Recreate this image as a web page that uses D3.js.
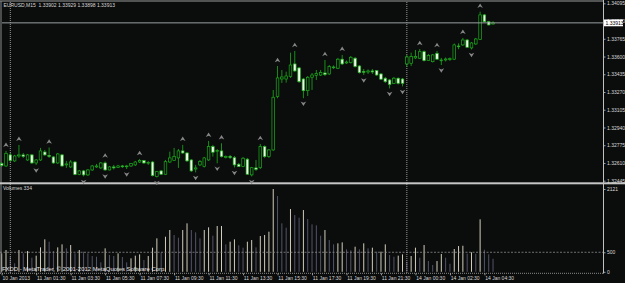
<!DOCTYPE html>
<html>
<head>
<meta charset="utf-8">
<script src="https://cdn.jsdelivr.net/npm/d3@7"></script>
<style>
  body { margin: 0; background: #0b0c0c; }
  svg { display: block; }
  text { font-family: "Liberation Sans", Arial, sans-serif; }
</style>
</head>
<body>
<div id="chart"></div>
<script>
//constants
const width = 625;
const height = 283;

//bars, 10 Jan 23:30 to 14 Jan 05:00, M15
const opens = [1.32605,1.32582,1.32685,1.32629,1.32675,1.32685,1.32638,1.32685,1.32610,1.32638,
  1.32712,1.32680,1.32666,1.32610,1.32685,1.32592,1.32573,1.32619,1.32503,1.32536,
  1.32499,1.32545,1.32573,1.32564,1.32610,1.32545,1.32573,1.32568,1.32582,1.32578,
  1.32582,1.32592,1.32619,1.32632,1.32610,1.32619,1.32483,1.32536,1.32505,1.32619,
  1.32632,1.32657,1.32722,1.32703,1.32638,1.32554,1.32592,1.32576,1.32638,1.32762,
  1.32722,1.32722,1.32661,1.32671,1.32659,1.32598,1.32576,1.32645,1.32499,1.32564,
  1.32566,1.32762,1.32669,1.32731,1.33227,1.33391,1.33391,1.33413,1.33531,1.33494,
  1.33391,1.33282,1.33407,1.33424,1.33428,1.33447,1.33438,1.33498,1.33491,1.33575,
  1.33540,1.33543,1.33584,1.33512,1.33461,1.33456,1.33466,1.33469,1.33438,1.33398,
  1.33382,1.33350,1.33398,1.33391,1.33531,1.33537,1.33587,1.33584,1.33645,1.33562,
  1.33552,1.33630,1.33563,1.33568,1.33573,1.33575,1.33698,1.33708,1.33754,1.33680,
  1.33717,1.33759,1.33987,1.33924,1.33902];
const highs = [1.32619,1.32722,1.32703,1.32685,1.32778,1.32703,1.32694,1.32694,1.32647,1.32750,
  1.32731,1.32754,1.32675,1.32703,1.32694,1.32629,1.32638,1.32629,1.32545,1.32545,
  1.32554,1.32592,1.32601,1.32619,1.32624,1.32582,1.32592,1.32592,1.32592,1.32592,
  1.32610,1.32629,1.32647,1.32638,1.32629,1.32629,1.32536,1.32545,1.32638,1.32715,
  1.32750,1.32740,1.32778,1.32712,1.32647,1.32592,1.32638,1.32666,1.32815,1.32778,
  1.32740,1.32793,1.32680,1.32685,1.32675,1.32610,1.32666,1.32657,1.32573,1.32638,
  1.32787,1.32773,1.32740,1.33289,1.33512,1.33475,1.33459,1.33636,1.33652,1.33503,
  1.33401,1.33419,1.33447,1.33475,1.33475,1.33568,1.33521,1.33517,1.33587,1.33615,
  1.33563,1.33605,1.33596,1.33521,1.33484,1.33480,1.33484,1.33475,1.33447,1.33410,
  1.33391,1.33410,1.33405,1.33401,1.33615,1.33636,1.33661,1.33670,1.33656,1.33624,
  1.33624,1.33652,1.33587,1.33591,1.33591,1.33721,1.33723,1.33773,1.33763,1.33735,
  1.33773,1.34017,1.33996,1.33931,1.33929];
const lows = [1.32573,1.32573,1.32619,1.32619,1.32657,1.32657,1.32629,1.32601,1.32592,1.32629,
  1.32675,1.32657,1.32601,1.32601,1.32573,1.32564,1.32564,1.32496,1.32496,1.32485,
  1.32489,1.32536,1.32564,1.32554,1.32536,1.32540,1.32550,1.32564,1.32564,1.32554,
  1.32573,1.32582,1.32610,1.32601,1.32592,1.32485,1.32475,1.32499,1.32499,1.32610,
  1.32629,1.32564,1.32694,1.32619,1.32526,1.32522,1.32582,1.32568,1.32629,1.32669,
  1.32607,1.32661,1.32652,1.32647,1.32568,1.32573,1.32571,1.32499,1.32485,1.32536,
  1.32554,1.32657,1.32657,1.32722,1.33212,1.33354,1.33357,1.33401,1.33456,1.33354,
  1.33212,1.33233,1.33289,1.33382,1.33419,1.33419,1.33428,1.33484,1.33484,1.33521,
  1.33531,1.33535,1.33498,1.33442,1.33428,1.33438,1.33438,1.33419,1.33382,1.33354,
  1.33303,1.33345,1.33340,1.33322,1.33503,1.33512,1.33577,1.33577,1.33554,1.33559,
  1.33545,1.33568,1.33521,1.33554,1.33559,1.33568,1.33668,1.33698,1.33680,1.33666,
  1.33708,1.33754,1.33917,1.33889,1.33898];
const closes = [1.32587,1.32700,1.32632,1.32675,1.32685,1.32671,1.32685,1.32610,1.32638,1.32722,
  1.32685,1.32671,1.32610,1.32694,1.32582,1.32601,1.32619,1.32503,1.32536,1.32499,
  1.32545,1.32582,1.32582,1.32610,1.32545,1.32573,1.32564,1.32582,1.32578,1.32582,
  1.32605,1.32619,1.32633,1.32610,1.32615,1.32492,1.32529,1.32505,1.32622,1.32657,
  1.32669,1.32722,1.32703,1.32629,1.32536,1.32564,1.32624,1.32657,1.32762,1.32710,
  1.32726,1.32669,1.32671,1.32661,1.32592,1.32576,1.32654,1.32505,1.32566,1.32550,
  1.32762,1.32669,1.32731,1.33221,1.33401,1.33410,1.33419,1.33521,1.33466,1.33366,
  1.33282,1.33407,1.33428,1.33442,1.33450,1.33433,1.33506,1.33503,1.33575,1.33531,
  1.33549,1.33593,1.33506,1.33450,1.33456,1.33466,1.33456,1.33428,1.33389,1.33366,
  1.33340,1.33398,1.33351,1.33351,1.33596,1.33599,1.33601,1.33645,1.33562,1.33610,
  1.33615,1.33575,1.33568,1.33577,1.33580,1.33708,1.33692,1.33754,1.33686,1.33726,
  1.33763,1.33987,1.33924,1.33894,1.33913];
const volumes = [473,558,387,217,558,473,533,361,413,626,
  831,771,533,626,703,601,686,473,558,515,
  473,404,387,242,601,430,404,473,379,242,
  345,413,447,302,404,618,857,490,899,1070,
  942,873,1070,1241,1070,1010,857,1070,1139,925,
  1173,1173,703,771,831,678,618,771,814,626,
  916,942,1027,2121,1940,1241,1130,1608,1454,1385,
  1582,1352,1216,1190,925,1070,814,703,729,754,
  575,550,643,575,729,601,618,515,515,703,
  430,387,413,447,259,404,618,361,686,276,
  174,276,456,361,207,584,660,668,464,499,
  464,1344,566,447,334];

//bill williams fractals (bar numbers)
const upFractals = [1, 4, 11, 24, 32, 42, 48, 51, 60, 64, 68, 75, 79, 97, 101, 107, 111];
const downFractals = [8, 19, 24, 29, 36, 45, 50, 54, 58, 70, 84, 90, 93, 102, 109];

//axes
const priceTicks = [1.34095, 1.3393, 1.33765, 1.336, 1.33435, 1.3327, 1.33105, 1.3294, 1.32775, 1.3261, 1.32445];
const volumeTicks = [2121, 500, 0];
const timeTickBars = [0, 8, 16, 24, 32, 40, 48, 56, 64, 72, 80, 88, 96, 104, 112];
const timeTickLabels = ["10 Jan 2013", "11 Jan 01:30", "11 Jan 03:30", "11 Jan 05:30", "11 Jan 07:30",
  "11 Jan 09:30", "11 Jan 11:30", "11 Jan 13:30", "11 Jan 15:30", "11 Jan 17:30", "11 Jan 19:30",
  "11 Jan 21:30", "14 Jan 00:30", "14 Jan 02:30", "14 Jan 04:30"];
const daySeparatorBars = [2, 94];
const bid = 1.33913;
const volumeLevel = 500;

const bg = "#0b0c0c";
const lime = "#1cae1c";
const textColor = "#d8d8d8";

//scales
const x = d3.scaleLinear().domain([0, 114]).range([1.7, 493.04]);
const y = d3.scaleLinear().domain([1.32445, 1.34095]).range([180.7, 3.3]);
const yv = d3.scaleLinear().domain([0, 2121]).range([271.8, 189]);
const axisX = 603.5;

const svg = d3
  .select("#chart")
  .append("svg")
  .attr("width", width)
  .attr("height", height);

svg.append("rect").attr("width", width).attr("height", height).attr("fill", bg);

const bars = d3.range(opens.length).map((i) => ({
  i: i,
  o: opens[i],
  h: highs[i],
  l: lows[i],
  c: closes[i],
  v: volumes[i],
}));

// volume window
svg
  .selectAll(".vol")
  .data(bars)
  .join("line")
  .attr("class", "vol")
  .attr("x1", (d) => x(d.i))
  .attr("x2", (d) => x(d.i))
  .attr("y1", yv(0))
  .attr("y2", (d) => yv(d.v))
  .attr("stroke", (d) => (d.i > 0 && d.v < volumes[d.i - 1] ? "#54546a" : "#d2cebb"))
  .attr("stroke-width", 1);

svg
  .append("line")
  .attr("x1", 0)
  .attr("x2", axisX)
  .attr("y1", yv(volumeLevel))
  .attr("y2", yv(volumeLevel))
  .attr("stroke", "#8c8c8c")
  .attr("stroke-dasharray", "2,1.5")
  .attr("stroke-width", 0.8);

// day separators
svg
  .selectAll(".daysep")
  .data(daySeparatorBars)
  .join("line")
  .attr("class", "daysep")
  .attr("x1", (d) => x(d))
  .attr("x2", (d) => x(d))
  .attr("y1", 2)
  .attr("y2", 273)
  .attr("stroke", "#a8a8a8")
  .attr("stroke-dasharray", "1,1")
  .attr("stroke-width", 0.9);

// frame lines
svg.append("line").attr("x1", 0).attr("x2", axisX).attr("y1", 1).attr("y2", 1)
  .attr("stroke", "#9a9a9a").attr("stroke-width", 1);
svg.append("line").attr("x1", 1).attr("x2", 1).attr("y1", 1).attr("y2", 273)
  .attr("stroke", "#8a8a8a").attr("stroke-width", 1);
svg.append("rect").attr("x", 0).attr("y", 182.3).attr("width", width).attr("height", 2)
  .attr("fill", "#c6c6c6");
svg.append("line").attr("x1", 0).attr("x2", axisX).attr("y1", 273.3).attr("y2", 273.3)
  .attr("stroke", "#8a8a8a").attr("stroke-dasharray", "1,1").attr("stroke-width", 1);
svg.append("line").attr("x1", axisX).attr("x2", axisX).attr("y1", 0).attr("y2", 273.5)
  .attr("stroke", "#c0c0c0").attr("stroke-width", 1);

// candles
const candle = svg.selectAll(".candle").data(bars).join("g").attr("class", "candle");

candle
  .append("line")
  .attr("x1", (d) => x(d.i))
  .attr("x2", (d) => x(d.i))
  .attr("y1", (d) => y(d.h))
  .attr("y2", (d) => y(d.l))
  .attr("stroke", lime)
  .attr("stroke-width", 0.8);

candle
  .append("rect")
  .attr("x", (d) => x(d.i) - 1.3)
  .attr("width", 2.6)
  .attr("y", (d) => y(Math.max(d.o, d.c)))
  .attr("height", (d) => Math.max(0.8, Math.abs(y(d.o) - y(d.c))))
  .attr("fill", (d) => (d.c >= d.o ? bg : "#eefbe8"))
  .attr("stroke", lime)
  .attr("stroke-width", 0.7);

// fractals
const upArrow = "M0,-2.3L2.8,2.2L0,0.9L-2.8,2.2Z";
const downArrow = "M0,2.3L2.8,-2.2L0,-0.9L-2.8,-2.2Z";

svg
  .selectAll(".fup")
  .data(upFractals)
  .join("path")
  .attr("class", "fup")
  .attr("d", upArrow)
  .attr("transform", (d) => `translate(${x(d)},${y(highs[d]) - 6})`)
  .attr("fill", "#878787");

svg
  .selectAll(".fdown")
  .data(downFractals)
  .join("path")
  .attr("class", "fdown")
  .attr("d", downArrow)
  .attr("transform", (d) => `translate(${x(d)},${y(lows[d]) + 5.5})`)
  .attr("fill", "#878787");

// bid line
svg
  .append("line")
  .attr("x1", 2)
  .attr("x2", axisX)
  .attr("y1", y(bid))
  .attr("y2", y(bid))
  .attr("stroke", "#9aa2a2")
  .attr("stroke-width", 1);

// price axis
const priceAxis = svg
  .append("g")
  .attr("transform", `translate(${axisX},0)`)
  .call(
    d3
      .axisRight(y)
      .tickValues(priceTicks)
      .tickFormat(d3.format(".5f"))
      .tickSize(2)
      .tickPadding(1.5)
  );

const volumeAxis = svg
  .append("g")
  .attr("transform", `translate(${axisX},0)`)
  .call(
    d3
      .axisRight(yv)
      .tickValues(volumeTicks)
      .tickFormat(d3.format("d"))
      .tickSize(2)
      .tickPadding(1.5)
  );

const timeAxis = svg
  .append("g")
  .attr("transform", `translate(0,273.3)`)
  .call(
    d3
      .axisBottom(x)
      .tickValues(timeTickBars)
      .tickFormat((d, i) => timeTickLabels[i])
      .tickSize(2)
      .tickPadding(1)
  );

[priceAxis, volumeAxis, timeAxis].forEach((g) => {
  g.select("path.domain").remove();
  g.selectAll(".tick line").attr("stroke", "#c0c0c0").attr("stroke-width", 0.8);
  g.selectAll(".tick text")
    .attr("fill", textColor)
    .attr("font-size", 5)
    .attr("font-family", "Liberation Sans, Arial, sans-serif");
});
volumeAxis.selectAll(".tick text").attr("dy", "0.25em");
timeAxis.selectAll(".tick text").attr("text-anchor", "start").attr("dx", 0.3);

// bid label
svg
  .append("rect")
  .attr("x", axisX + 0.5)
  .attr("y", y(bid) - 3.4)
  .attr("width", 19)
  .attr("height", 6.8)
  .attr("fill", "#ffffff");
svg
  .append("text")
  .attr("x", axisX + 2)
  .attr("y", y(bid))
  .attr("dy", "0.34em")
  .attr("fill", "#000")
  .attr("font-size", 5)
  .text(d3.format(".5f")(bid));

// window texts
const last = bars[bars.length - 1];
svg
  .append("text")
  .attr("x", 3.5)
  .attr("y", 7.4)
  .attr("fill", textColor)
  .attr("font-size", 5)
  .attr("xml:space", "preserve")
  .text(`EURUSD,M15  ${[last.o, last.h, last.l, last.c].map(d3.format(".5f")).join(" ")}`);

svg
  .append("text")
  .attr("x", 3)
  .attr("y", 190.4)
  .attr("fill", textColor)
  .attr("font-size", 5)
  .text(`Volumes ${last.v}`);

svg
  .append("text")
  .attr("x", 2)
  .attr("y", 271)
  .attr("fill", "#e4e4e4")
  .attr("font-size", 6)
  .attr("textLength", 164)
  .attr("lengthAdjust", "spacingAndGlyphs")
  .text("FXDD - MetaTrader, © 2001-2012 MetaQuotes Software Corp.");
</script>
</body>
</html>
